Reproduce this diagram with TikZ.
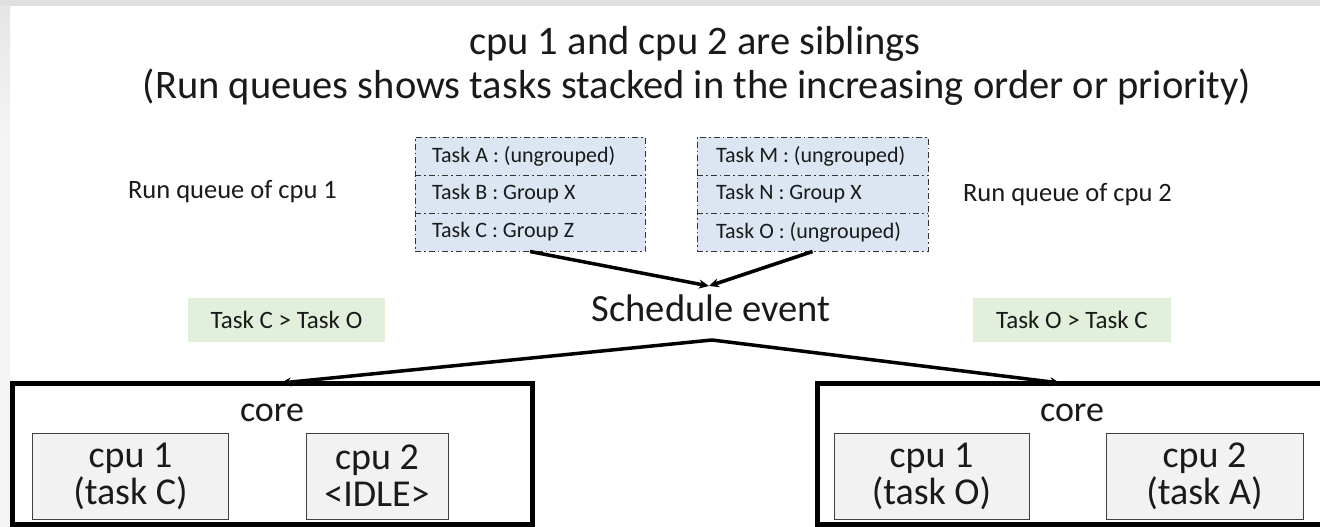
\documentclass[tikz,border=0pt]{standalone}
\usepackage{fontspec}
\setmainfont{Carlito}
\usetikzlibrary{arrows.meta,calc}
\definecolor{qfill}{HTML}{DCE6F2}
\definecolor{gfill}{HTML}{E2EFDA}
\definecolor{cfill}{HTML}{F2F2F2}
\definecolor{txt}{HTML}{1A1A1A}
\tikzset{
  fs/.style={font=\fontsize{#1}{#1}\selectfont},
  qbox/.style={draw=black!80, line width=1pt, fill=qfill, dash pattern=on 6pt off 3pt on 1.5pt off 3pt},
  qsep/.style={draw=black!80, line width=1pt, dash pattern=on 6pt off 3pt on 1.5pt off 3pt},
  qtext/.style={fs=22, anchor=west, text=txt, inner sep=0pt},
  greenbox/.style={fill=gfill, draw=none, minimum width=197pt, minimum height=44pt, fs=25, text=txt},
  corebox/.style={draw=black, line width=5pt},
  cpubox/.style={draw=black!75, line width=1pt, fill=cfill, align=center, text=txt,
     font=\fontsize{38}{37}\selectfont},
  arr/.style={line width=3.5pt, -{Stealth[length=10pt,width=9pt]}},
}
\begin{document}
\begin{tikzpicture}[x=1pt,y=-1pt]
\useasboundingbox (0,0) rectangle (1320,527);
\fill[white] (0,0) rectangle (1320,527);
\fill[black!12] (0,0) rectangle (1320,6);
\shade[top color=black!10, bottom color=black!4] (0,6) rectangle (10,140);
\fill[black!4] (0,140) rectangle (10,527);
% titles
\node[fs=40.5, text=txt] (t1) at (695,44) {cpu 1 and cpu 2 are siblings};
\node[fs=40.5, text=txt] (t2) at (697,87) {(Run queues shows tasks stacked in the increasing order or priority)};
% run queue labels
\node[fs=26.5, text=txt] (rq1) at (232.5,192) {Run queue of cpu 1};
\node[fs=26.5, text=txt] (rq2) at (1067.5,195) {Run queue of cpu 2};
% queue boxes
\node[qbox, minimum width=230pt, minimum height=114pt, inner sep=0pt] (q1) at (530,194) {};
\draw[qsep] (415,175) -- (645,175);
\draw[qsep] (415,213) -- (645,213);
\node[qtext] (qa) at (432,156) {Task A : (ungrouped)};
\node[qtext] (qb) at (432,194) {Task B : Group X};
\node[qtext] (qc) at (432,232) {Task C : Group Z};
\node[qbox, minimum width=231pt, minimum height=114pt, inner sep=0pt] (q2) at (812.5,194) {};
\draw[qsep] (697,175) -- (928,175);
\draw[qsep] (697,213) -- (928,213);
\node[qtext] (qm) at (716,156) {Task M : (ungrouped)};
\node[qtext] (qn) at (716,194) {Task N : Group X};
\node[qtext] (qo) at (716,232) {Task O : (ungrouped)};
% schedule event
\node[fs=38.5, text=txt] (se) at (711,308) {Schedule event};
\coordinate (sein) at (709,286);
\coordinate (seout) at (712,340);
\draw[arr] (q1.south) -- (sein);
\draw[arr] (q2.south) -- (sein);
% green boxes
\node[greenbox] (g1) at (286.5,320) {Task C > Task O};
\node[greenbox, minimum width=198pt] (g2) at (1072,320) {Task O > Task C};
% core boxes
\draw[corebox] (12,383.5) rectangle (532,524.5);
\draw[corebox] (817,383.5) rectangle (1340,524.5);
\coordinate (c1in) at (281,383);
\coordinate (c2in) at (1060,383);
\draw[arr] (seout) -- (c1in);
\draw[arr] (seout) -- (c2in);
\node[fs=36, text=txt] (core1) at (272,413) {core};
\node[fs=36, text=txt] (core2) at (1072,413) {core};
\node[cpubox, minimum width=196pt, minimum height=86pt] (c11) at (130.5,476) {cpu 1\\(task C)};
\node[cpubox, minimum width=142pt, minimum height=86pt] (c12) at (377,476) {cpu 2\\<IDLE>};
\node[cpubox, minimum width=195pt, minimum height=86pt] (c21) at (931.5,476) {cpu 1\\(task O)};
\node[cpubox, minimum width=197pt, minimum height=86pt] (c22) at (1204.5,476) {cpu 2\\(task A)};
\end{tikzpicture}
\end{document}
